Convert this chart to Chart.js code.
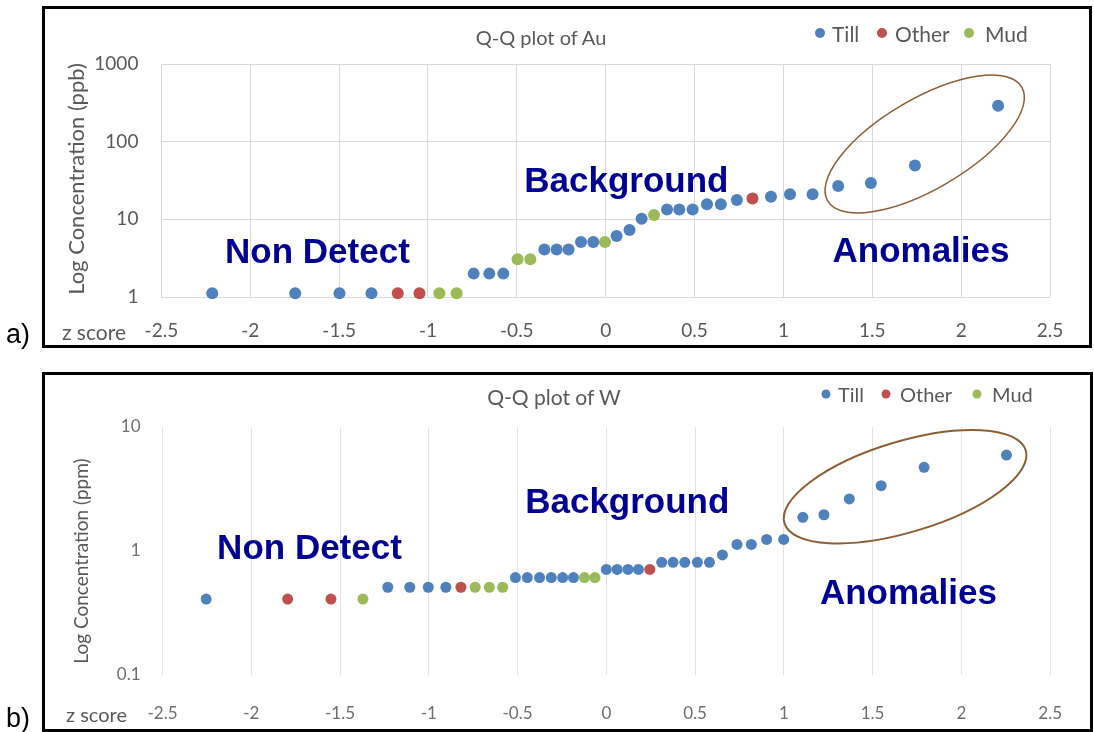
<!DOCTYPE html>
<html>
<head>
<meta charset="utf-8">
<title>Q-Q plots of Au and W</title>
<script src="https://cdn.jsdelivr.net/npm/chart.js@4.4.1/dist/chart.umd.min.js"></script>
<style>
  html, body { margin:0; padding:0; background:#fff; }
  #page { position:relative; width:1094px; height:732px; overflow:hidden; font-family:Lato, "Open Sans", sans-serif; color:#595959; }
  .panel { position:absolute; border:3px solid #000; box-sizing:border-box; }
  canvas.chart { position:absolute; }
  .t { position:absolute; white-space:nowrap; line-height:1; transform:translate(-50%,-50%); }
  .tl { position:absolute; white-space:nowrap; line-height:1; transform:translate(0,-50%); }
  .yt { position:absolute; white-space:nowrap; line-height:1; transform:translate(-50%,-50%) rotate(-90deg); }
  .dot { position:absolute; border-radius:50%; transform:translate(-50%,-50%); }
  .tag { position:absolute; white-space:nowrap; font-family:"Liberation Sans", Arial, sans-serif; font-size:27px; color:#000; line-height:1; transform:translate(0,-50%); }
</style>
</head>
<body>
<div id="page">
  <div class="panel" style="left:42px;top:6px;width:1050px;height:342px;"></div>
  <div class="panel" style="left:42px;top:372px;width:1051px;height:360px;"></div>

  <canvas id="chartAu" class="chart" width="1043" height="336" style="left:45px;top:9px;width:1043px;height:336px;"></canvas>
  <canvas id="chartW" class="chart" width="1045" height="354" style="left:45px;top:375px;width:1045px;height:354px;"></canvas>

  <!-- panel a texts -->
  <div class="t" style="left:541px;top:37px;font-size:20px;">Q-Q plot of Au</div>
  <div class="yt" style="left:76px;top:179px;font-size:22px;">Log Concentration (ppb)</div>
  <div class="tl" style="left:62px;top:331px;font-size:21px;">z score</div>
  <div class="dot" style="left:820px;top:33px;width:10px;height:10px;background:#4F81BD;"></div>
  <div class="tl" style="left:832px;top:33px;font-size:21px;">Till</div>
  <div class="dot" style="left:882px;top:33px;width:10px;height:10px;background:#C0504D;"></div>
  <div class="tl" style="left:895px;top:33px;font-size:21px;">Other</div>
  <div class="dot" style="left:969px;top:33px;width:10px;height:10px;background:#9BBB59;"></div>
  <div class="tl" style="left:985px;top:33px;font-size:21px;">Mud</div>
  <div class="tag" style="left:6px;top:334px;">a)</div>

  <!-- panel b texts -->
  <div class="t" style="left:554px;top:396px;font-size:21px;">Q-Q plot of W</div>
  <div class="yt" style="left:80px;top:561px;font-size:19px;">Log Concentration (ppm)</div>
  <div class="tl" style="left:66px;top:714px;font-size:20px;">z score</div>
  <div class="dot" style="left:826px;top:394px;width:9px;height:9px;background:#4F81BD;"></div>
  <div class="tl" style="left:838px;top:394px;font-size:20px;">Till</div>
  <div class="dot" style="left:886px;top:394px;width:9px;height:9px;background:#C0504D;"></div>
  <div class="tl" style="left:900px;top:394px;font-size:20px;">Other</div>
  <div class="dot" style="left:977px;top:394px;width:9px;height:9px;background:#9BBB59;"></div>
  <div class="tl" style="left:992px;top:394px;font-size:20px;">Mud</div>
  <div class="tag" style="left:6px;top:718px;">b)</div>
</div>

<script>
// ---------------- DATA ----------------
const seriesNames = ['Till', 'Other', 'Mud'];
const zTicks = [-2.5, -2, -1.5, -1, -0.5, 0, 0.5, 1, 1.5, 2, 2.5];

// Panel a: Au (ppb)
const auTicks = [1, 10, 100, 1000];
const auTillZ   = [-2.214, -1.747, -1.498, -1.318, -0.743, -0.655, -0.576, -0.345, -0.276, -0.209, -0.139, -0.070, 0.061, 0.134, 0.202, 0.345, 0.414, 0.489, 0.570, 0.648, 0.738, 0.930, 1.037, 1.164, 1.308, 1.492, 1.740, 2.208];
const auTillPpb = [1.12, 1.12, 1.12, 1.12, 2.0, 2.0, 2.0, 4.1, 4.1, 4.1, 5.1, 5.1, 6.1, 7.3, 10.2, 13.4, 13.4, 13.4, 15.6, 15.6, 17.7, 19.5, 21, 21, 26.8, 29.3, 49.5, 290];
const auOtherZ   = [-1.170, -1.048, 0.826];
const auOtherPpb = [1.12, 1.12, 18.6];
const auMudZ   = [-0.936, -0.839, -0.496, -0.424, -0.004, 0.272];
const auMudPpb = [1.12, 1.12, 3.06, 3.06, 5.1, 11.4];

// Panel b: W (ppm)
const wTicks = [0.1, 1, 10];
const wTillZ   = [-2.254, -1.231, -1.107, -1.003, -0.904, -0.512, -0.445, -0.376, -0.310, -0.246, -0.185, 0.000, 0.061, 0.122, 0.181, 0.312, 0.376, 0.442, 0.513, 0.581, 0.654, 0.736, 0.817, 0.903, 0.999, 1.107, 1.226, 1.369, 1.548, 1.790, 2.254];
const wTillPpm = [0.41, 0.51, 0.51, 0.51, 0.51, 0.61, 0.61, 0.61, 0.61, 0.61, 0.61, 0.71, 0.71, 0.71, 0.71, 0.81, 0.81, 0.81, 0.81, 0.81, 0.93, 1.13, 1.13, 1.24, 1.24, 1.87, 1.96, 2.63, 3.36, 4.73, 5.94];
const wOtherZ   = [-1.795, -1.551, -0.819, 0.245];
const wOtherPpm = [0.41, 0.41, 0.51, 0.71];
const wMudZ   = [-1.371, -0.739, -0.659, -0.584, -0.123, -0.064];
const wMudPpm = [0.41, 0.51, 0.51, 0.51, 0.61, 0.61];

// Annotation labels (text, z, value)
const auNotes = [['Non Detect', -1.622, 3.68], ['Background', 0.116, 30.2], ['Anomalies', 1.774, 3.8]];
const wNotes  = [['Non Detect', -1.672, 1.04], ['Background', 0.118, 2.44], ['Anomalies', 1.702, 0.45]];
// Ellipse centres (z, value)
const auEllipseCentre = [1.795, 93.4];
const wEllipseCentre  = [1.683, 3.3];

// ---------------- STYLE ----------------
const COLORS = { Till: '#4F81BD', Other: '#C0504D', Mud: '#9BBB59' };

function pts(xs, ys) { return xs.map((x, i) => ({ x: x, y: ys[i] })); }

function notesPlugin(notes, centre, ell) {
  return {
    id: 'qqNotes',
    afterDatasetsDraw(chart) {
      const ctx = chart.ctx, x = chart.scales.x, y = chart.scales.y;
      ctx.save();
      ctx.beginPath();
      ctx.ellipse(x.getPixelForValue(centre[0]), y.getPixelForValue(centre[1]), ell.rx, ell.ry, ell.rot * Math.PI / 180, 0, 2 * Math.PI);
      ctx.strokeStyle = '#8B5E34';
      ctx.lineWidth = ell.lw;
      ctx.stroke();
      ctx.font = 'bold 35px "Liberation Sans", Arial, sans-serif';
      ctx.fillStyle = '#000094';
      ctx.textAlign = 'center';
      ctx.textBaseline = 'middle';
      notes.forEach(n => ctx.fillText(n[0], x.getPixelForValue(n[1]), y.getPixelForValue(n[2])));
      ctx.restore();
    }
  };
}

function makeChart(id, canvasBox, area, datasetsXY, yTicks, yMin, yMax, look, notes, centre, ell) {
  const yW = area.left - canvasBox.left;
  const xH = canvasBox.top + canvasBox.height - area.bottom;
  const padRight = canvasBox.left + canvasBox.width - area.right;
  const padTop = area.top - canvasBox.top;
  const datasets = seriesNames.map((name, i) => ({
    label: name,
    data: pts(datasetsXY[i][0], datasetsXY[i][1]),
    backgroundColor: COLORS[name],
    borderColor: COLORS[name],
    borderWidth: 0,
    pointRadius: look.r,
    pointHoverRadius: look.r,
    clip: false
  }));
  return new Chart(document.getElementById(id), {
    type: 'scatter',
    data: { datasets: datasets },
    options: {
      responsive: false,
      animation: false,
      events: [],
      layout: { padding: { left: 0, right: padRight, top: padTop, bottom: 0 } },
      plugins: { legend: { display: false }, title: { display: false }, tooltip: { enabled: false } },
      scales: {
        x: {
          type: 'linear', min: -2.5, max: 2.5,
          afterBuildTicks: s => { s.ticks = zTicks.map(v => ({ value: v })); },
          afterFit: s => { s.height = xH; },
          ticks: { callback: v => String(v), font: { family: 'Lato', size: look.fs }, color: look.tc, padding: look.xPad, maxRotation: 0, autoSkip: false },
          grid: { color: look.gc, lineWidth: 1, drawTicks: false },
          border: { display: false }
        },
        y: {
          type: 'logarithmic', min: yMin, max: yMax,
          afterBuildTicks: s => { s.ticks = yTicks.map(v => ({ value: v })); },
          afterFit: s => { s.width = yW; },
          ticks: { callback: v => String(v), font: { family: 'Lato', size: look.fs }, color: look.tc, padding: look.yPad, autoSkip: false },
          grid: { display: look.hGrid, color: look.gc, lineWidth: 1, drawTicks: false },
          border: { display: false }
        }
      }
    },
    plugins: [notesPlugin(notes, centre, ell)]
  });
}

makeChart('chartAu',
  { left: 45, top: 9, width: 1043, height: 336 },
  { left: 161.4, right: 1050, top: 64, bottom: 297 },
  [[auTillZ, auTillPpb], [auOtherZ, auOtherPpb], [auMudZ, auMudPpb]],
  auTicks, 1, 1000,
  { r: 6, fs: 19, tc: '#595959', gc: '#D9D9D9', xPad: 22, yPad: 23, hGrid: true },
  auNotes, auEllipseCentre, { rx: 112.5, ry: 45, rot: -30.4, lw: 1.5 });

makeChart('chartW',
  { left: 45, top: 375, width: 1045, height: 354 },
  { left: 162.5, right: 1059, top: 427, bottom: 675 },
  [[wTillZ, wTillPpm], [wOtherZ, wOtherPpm], [wMudZ, wMudPpm]],
  wTicks, 0.1, 10,
  { r: 5.5, fs: 17, tc: '#6E6E6E', gc: '#E3E3E3', xPad: 28, yPad: 22, hGrid: false },
  wNotes, wEllipseCentre, { rx: 126, ry: 45.4, rot: -16.8, lw: 2 });
</script>
</body>
</html>
